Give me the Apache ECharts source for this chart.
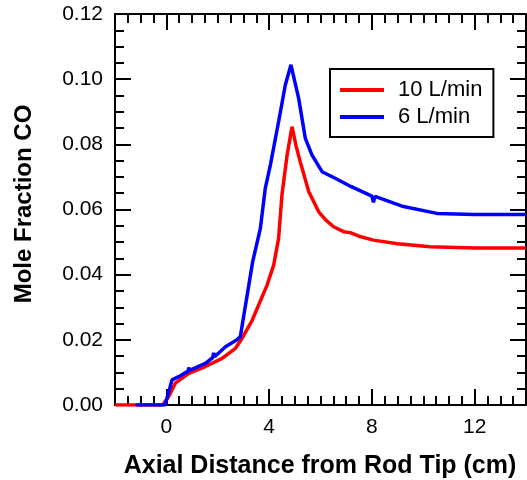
<!DOCTYPE html>
<html>
<head>
<meta charset="utf-8">
<script src="https://cdn.jsdelivr.net/npm/echarts@6/dist/echarts.min.js"></script>
<style>
html,body{margin:0;padding:0;background:#fff;}
#chart{width:527px;height:480px;}
</style>
</head>
<body>
<div id="chart"></div>
<script>
// Series names
const seriesNames = ['10 L/min', '6 L/min'];

// 10 L/min (red)
const xRed = [-2, -0.15, 0.09, 0.35, 0.87, 1.52, 2.17, 2.69, 2.95, 3.34, 3.92, 4.18, 4.37, 4.5, 4.7, 4.89, 5.05, 5.21, 5.54, 5.93, 6.2, 6.51, 6.9, 7.16, 7.5, 8.06, 9.0, 10.27, 12, 14];
const yRed = [0, 0, 0.0026, 0.0067, 0.0097, 0.0118, 0.0143, 0.0174, 0.0205, 0.026, 0.0368, 0.043, 0.0512, 0.0645, 0.0767, 0.0854, 0.0795, 0.0747, 0.0655, 0.0593, 0.0568, 0.0547, 0.0532, 0.0529, 0.0518, 0.0506, 0.0495, 0.0486, 0.0482, 0.0482];

// 6 L/min (blue)
const xBlue = [-1.2, -0.05, 0.22, 0.48, 0.85, 0.87, 0.9, 1.52, 1.8, 1.84, 1.88, 2.3, 2.75, 2.88, 3.36, 3.66, 3.85, 4.05, 4.37, 4.63, 4.85, 5.15, 5.41, 5.67, 6.06, 6.57, 7.2, 8.0, 8.06, 8.12, 9.23, 10.53, 12, 14];
const yBlue = [0, 0, 0.0077, 0.0087, 0.0104, 0.0115, 0.0106, 0.0128, 0.0145, 0.016, 0.0148, 0.0179, 0.02, 0.021, 0.044, 0.0542, 0.0665, 0.0737, 0.087, 0.0982, 0.1044, 0.0941, 0.0818, 0.0767, 0.0716, 0.0696, 0.067, 0.0641, 0.0622, 0.064, 0.0609, 0.0588, 0.0585, 0.0585];

// Axis settings
const xMin = -2, xMax = 14, xMajor = 4, xMinor = 0.5;
const yMin = 0, yMax = 0.12, yMajor = 0.02, yMinorSplit = 4;
const xTitle = 'Axial Distance from Rod Tip (cm)';
const yTitle = 'Mole Fraction CO';

const FONT = '"Liberation Sans", Arial, sans-serif';
const black = '#000';

function zip(xs, ys) { return xs.map((x, i) => [x, ys[i]]); }

const majorTick = { show: true, inside: true, length: 16, lineStyle: { color: black, width: 2 } };
const minorTickStyle = { show: true, inside: true, length: 9, lineStyle: { color: black, width: 2 } };

function xAxisMajor(pos, labels) {
  return {
    type: 'value', position: pos, min: xMin, max: xMax,
    minInterval: xMajor, maxInterval: xMajor, splitNumber: 4,
    axisLine: { show: true, onZero: false, lineStyle: { color: black, width: 2 } },
    axisTick: majorTick,
    axisLabel: { show: labels, showMinLabel: false, showMaxLabel: false, fontSize: 21, fontFamily: FONT, color: black, margin: 12 },
    splitLine: { show: false }
  };
}
function xAxisMinor(pos) {
  return {
    type: 'value', position: pos, min: xMin, max: xMax, interval: xMinor,
    axisLine: { show: false, onZero: false },
    axisTick: minorTickStyle,
    axisLabel: { show: false },
    splitLine: { show: false }
  };
}
function yAxisDef(pos, labels) {
  return {
    type: 'value', position: pos, min: yMin, max: yMax, interval: yMajor,
    axisLine: { show: true, onZero: false, lineStyle: { color: black, width: 2 } },
    axisTick: majorTick,
    minorTick: Object.assign({ splitNumber: yMinorSplit }, minorTickStyle),
    axisLabel: { show: labels, fontSize: 21, fontFamily: FONT, color: black, margin: 12,
      formatter: v => v.toFixed(2) },
    splitLine: { show: false }
  };
}

const chart = echarts.init(document.getElementById('chart'), null, { renderer: 'canvas' });
chart.setOption({
  animation: false,
  backgroundColor: '#fff',
  grid: { left: 115, right: 1, top: 14, bottom: 75, containLabel: false },
  xAxis: [xAxisMajor('bottom', true), xAxisMinor('bottom'), xAxisMajor('top', false), xAxisMinor('top')],
  yAxis: [yAxisDef('left', true), yAxisDef('right', false)],
  legend: {
    data: seriesNames,
    orient: 'vertical',
    left: 330, top: 69,
    padding: [10, 11, 9, 10],
    borderColor: black, borderWidth: 2,
    backgroundColor: '#fff',
    itemWidth: 44, itemHeight: 4, itemGap: 5,
    icon: 'rect',
    textStyle: { fontSize: 22, fontFamily: FONT, color: black, lineHeight: 20, padding: [0, 0, 0, 9] }
  },
  graphic: [
    { type: 'text', x: 24, y: 204, rotation: Math.PI / 2,
      style: { text: yTitle, font: 'bold 24px ' + FONT, fill: black, align: 'center', verticalAlign: 'middle' } },
    { type: 'text', x: 320, y: 466,
      style: { text: xTitle, font: 'bold 25px ' + FONT, fill: black, align: 'center', verticalAlign: 'middle' } }
  ],
  series: [
    { name: seriesNames[0], type: 'line', xAxisIndex: 0, yAxisIndex: 0, data: zip(xRed, yRed),
      showSymbol: false, symbol: 'none', lineStyle: { color: '#ff0000', width: 3.5 }, itemStyle: { color: '#ff0000' }, z: 2 },
    { name: seriesNames[1], type: 'line', xAxisIndex: 0, yAxisIndex: 0, data: zip(xBlue, yBlue),
      showSymbol: false, symbol: 'none', lineStyle: { color: '#0000ff', width: 3.5 }, itemStyle: { color: '#0000ff' }, z: 3 }
  ]
});
</script>
</body>
</html>
